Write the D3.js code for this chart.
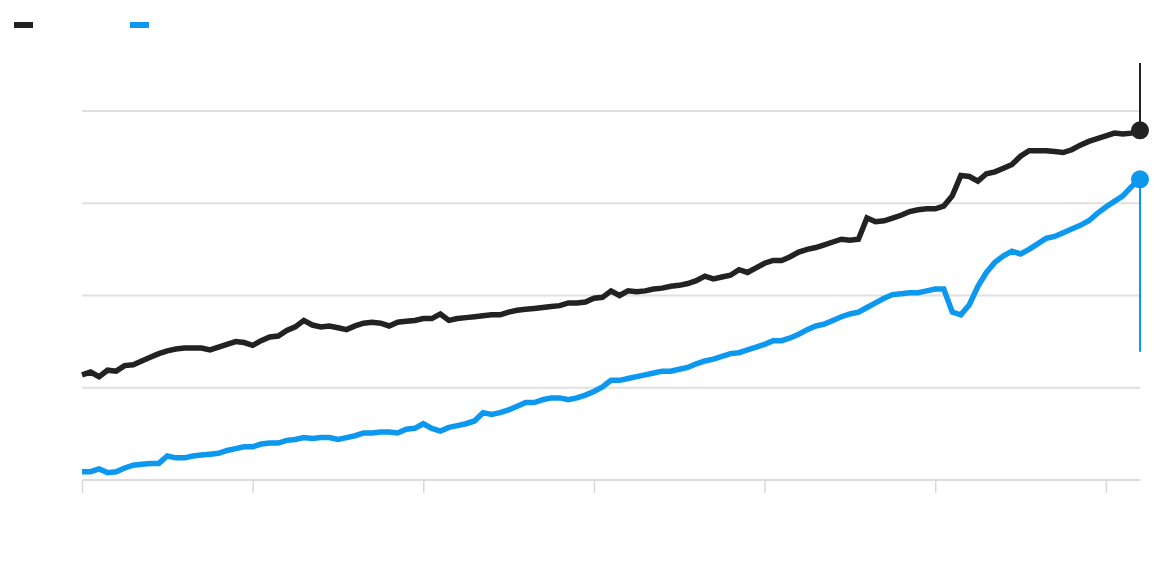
<!DOCTYPE html>
<html>
<head>
<meta charset="utf-8">
<script src="https://cdn.jsdelivr.net/npm/d3@7"></script>
<style>
  html, body { margin: 0; padding: 0; background: #fff; }
  svg { display: block; }
</style>
</head>
<body>
<div id="chart"></div>
<script>
// quarterly series, 1994 Q4 .. 2025 Q4
const startYear = 1994;
const startQuarter = 4;
const quarterCount = 125;

const quarters = [];
for (let k = 0; k < quarterCount; k++) {
    const q = (startQuarter - 1 + k) % 4 + 1;
    const y = startYear + Math.floor((startQuarter - 1 + k) / 4);
    quarters.push(y + ' Q' + q);
}

const blackValues = [
    11.4, 11.7, 11.2, 11.9, 11.8, 12.4, 12.5, 12.9, 13.3, 13.7,
    14.0, 14.2, 14.3, 14.3, 14.3, 14.1, 14.4, 14.7, 15.0, 14.9,
    14.6, 15.1, 15.5, 15.6, 16.2, 16.6, 17.3, 16.8, 16.6, 16.7,
    16.5, 16.3, 16.7, 17.0, 17.1, 17.0, 16.7, 17.1, 17.2, 17.3,
    17.5, 17.5, 18.0, 17.3, 17.5, 17.6, 17.7, 17.8, 17.9, 17.9,
    18.2, 18.4, 18.5, 18.6, 18.7, 18.8, 18.9, 19.2, 19.2, 19.3,
    19.7, 19.8, 20.5, 20.0, 20.5, 20.4, 20.5, 20.7, 20.8, 21.0,
    21.1, 21.3, 21.6, 22.1, 21.8, 22.0, 22.2, 22.8, 22.5, 23.0,
    23.5, 23.8, 23.8, 24.2, 24.7, 25.0, 25.2, 25.5, 25.8, 26.1,
    26.0, 26.1, 28.4, 28.0, 28.1, 28.4, 28.7, 29.1, 29.3, 29.4,
    29.4, 29.7, 30.8, 33.0, 32.9, 32.4, 33.2, 33.4, 33.8, 34.2,
    35.1, 35.7, 35.7, 35.7, 35.6, 35.5, 35.8, 36.3, 36.7, 37.0,
    37.3, 37.6, 37.5, 37.6, 37.9
];

const blueValues = [
    0.9, 0.9, 1.2, 0.8, 0.9, 1.3, 1.6, 1.7, 1.8, 1.8,
    2.6, 2.4, 2.4, 2.6, 2.7, 2.8, 2.9, 3.2, 3.4, 3.6,
    3.6, 3.9, 4.0, 4.0, 4.3, 4.4, 4.6, 4.5, 4.6, 4.6,
    4.4, 4.6, 4.8, 5.1, 5.1, 5.2, 5.2, 5.1, 5.5, 5.6,
    6.1, 5.6, 5.3, 5.7, 5.9, 6.1, 6.4, 7.3, 7.1, 7.3,
    7.6, 8.0, 8.4, 8.4, 8.7, 8.9, 8.9, 8.7, 8.9, 9.2,
    9.6, 10.1, 10.8, 10.8, 11.0, 11.2, 11.4, 11.6, 11.8, 11.8,
    12.0, 12.2, 12.6, 12.9, 13.1, 13.4, 13.7, 13.8, 14.1, 14.4,
    14.7, 15.1, 15.1, 15.4, 15.8, 16.3, 16.7, 16.9, 17.3, 17.7,
    18.0, 18.2, 18.7, 19.2, 19.7, 20.1, 20.2, 20.3, 20.3, 20.5,
    20.7, 20.7, 18.2, 17.9, 19.0, 21.0, 22.5, 23.6, 24.3, 24.8,
    24.5, 25.0, 25.6, 26.2, 26.4, 26.8, 27.2, 27.6, 28.1, 28.9,
    29.6, 30.2, 30.8, 31.8, 32.6
];

const xTicks = ['1994 Q4', '1999 Q4', '2004 Q4', '2009 Q4', '2014 Q4', '2019 Q4', '2024 Q4'];
const yTicks = [0, 10, 20, 30, 40];

// ends of the leader lines drawn from the last points
const blackLeaderTop = 45.2;
const blueLeaderBottom = 13.9;

const width = 1168;
const height = 576;
const plotLeft = 82;
const plotRight = 1140;
const plotTop = 111;
const plotBottom = 480;

const svg = d3.select('#chart')
    .append('svg')
    .attr('width', width)
    .attr('height', height);

const xScale = d3.scalePoint()
    .domain(quarters)
    .range([plotLeft, plotRight]);

const yScale = d3.scaleLinear()
    .domain([0, 40])
    .range([plotBottom, plotTop]);

// gridlines
svg.append('g')
    .selectAll('line')
    .data(yTicks.filter(d => d > 0))
    .enter()
    .append('line')
    .attr('x1', plotLeft)
    .attr('x2', plotRight)
    .attr('y1', d => yScale(d))
    .attr('y2', d => yScale(d))
    .attr('stroke', '#e0e0e0')
    .attr('stroke-width', 2);

// x axis, ticks without labels
const xAxis = svg.append('g')
    .attr('transform', `translate(0,${plotBottom})`)
    .call(d3.axisBottom(xScale).tickValues(xTicks).tickSize(13).tickFormat(''));

xAxis.select('.domain')
    .attr('d', `M${plotLeft},0H${plotRight}`)
    .attr('stroke', '#dcdcdc')
    .attr('stroke-width', 2);

xAxis.selectAll('.tick line')
    .attr('stroke', '#d8d8d8')
    .attr('stroke-width', 1.5);

const line = d3.line()
    .x((d, i) => xScale(quarters[i]))
    .y(d => yScale(d));

const series = [
    { values: blackValues, color: '#222222', leaderTo: blackLeaderTop, legendX: 14 },
    { values: blueValues, color: '#0b98ee', leaderTo: blueLeaderBottom, legendX: 130 }
];

const last = quarters[quarters.length - 1];

series.forEach(s => {
    const lastValue = s.values[s.values.length - 1];

    svg.append('line')
        .attr('x1', xScale(last))
        .attr('x2', xScale(last))
        .attr('y1', yScale(lastValue))
        .attr('y2', yScale(s.leaderTo))
        .attr('stroke', s.color)
        .attr('stroke-width', 2);

    svg.append('path')
        .datum(s.values)
        .attr('fill', 'none')
        .attr('stroke', s.color)
        .attr('stroke-width', 5.5)
        .attr('stroke-linejoin', 'miter')
        .attr('d', line);

    svg.append('circle')
        .attr('cx', xScale(last))
        .attr('cy', yScale(lastValue))
        .attr('r', 9)
        .attr('fill', s.color);

    svg.append('rect')
        .attr('x', s.legendX)
        .attr('y', 22)
        .attr('width', 19)
        .attr('height', 6)
        .attr('fill', s.color);
});
</script>
</body>
</html>
